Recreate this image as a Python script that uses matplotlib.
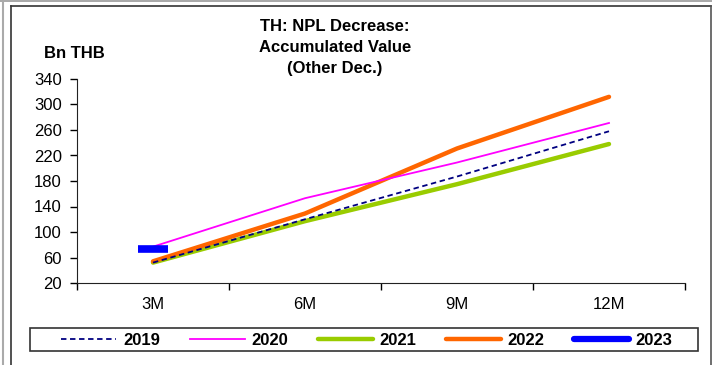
import numpy as np
import matplotlib
matplotlib.use("Agg")
import matplotlib.pyplot as plt
from matplotlib.lines import Line2D
from matplotlib.patches import Rectangle

plt.rcParams['font.family'] = ['Liberation Sans', 'DejaVu Sans']

categories = ['3M', '6M', '9M', '12M']
y2019 = [52, 120, 187, 258]
y2020 = [77, 153, 209, 271]
y2021 = [52, 117, 175, 238]
y2022 = [54, 129, 231, 312]
y2023 = [73]

fig = plt.figure(figsize=(7.12, 3.65), dpi=100)
ax = fig.add_axes([77/712, 1-283/365, (685-77)/712, (283-79)/365])

x = np.arange(len(categories)) + 0.5

ax.plot(x, y2019, color='#000080', lw=1.3, ls=(0, (3, 2)), zorder=3)
ax.plot(x, y2020, color='#FF00FF', lw=1.3, zorder=3)
ax.plot(x, y2021, color='#99CC00', lw=3.2, solid_capstyle='round', zorder=2)
ax.plot(x, y2022, color='#FF6600', lw=3.2, solid_capstyle='round', zorder=2)
ax.plot(x[:1], y2023, color='#0000FF', marker='_', ms=22, mew=5.5, ls='none', zorder=4)

ax.set_xlim(0, 4)
ax.set_ylim(20, 340)
ax.set_yticks(np.arange(20, 341, 40))
ax.set_xticks(np.arange(0, 5))
ax.set_xticklabels([])
ax.set_xticks(x, minor=True)
ax.set_xticklabels(categories, minor=True)
ax.tick_params(axis='x', which='minor', length=0, pad=10, labelsize=12)
ax.tick_params(axis='x', which='major', length=5, direction='out', width=1)
ax.tick_params(axis='y', length=5, direction='out', width=1, labelsize=12, pad=6)
for s in ['top', 'right']:
    ax.spines[s].set_visible(False)
for s in ['left', 'bottom']:
    ax.spines[s].set_color('#222222')

fig.text(335/712, 1-19/365, 'TH: NPL Decrease:\nAccumulated Value\n(Other Dec.)',
         ha='center', va='top', fontsize=12, fontweight='bold', linespacing=1.5)
fig.text(74/712, 1-54/365, 'Bn THB', ha='center', va='center',
         fontsize=12, fontweight='bold')

handles = [
    Line2D([], [], color='#000080', lw=1.3, ls=(0, (3, 2))),
    Line2D([], [], color='#FF00FF', lw=1.3),
    Line2D([], [], color='#99CC00', lw=3.2, solid_capstyle='round'),
    Line2D([], [], color='#FF6600', lw=3.2, solid_capstyle='round'),
    Line2D([], [], color='#0000FF', lw=4.5, solid_capstyle='round'),
]
labels = ['2019', '2020', '2021', '2022', '2023']
leg = fig.legend(handles, labels, loc='lower left', ncol=5, mode='expand',
                 bbox_to_anchor=(58/712, 1-351/365, 618/712, 23/365),
                 frameon=False, handlelength=3.3,
                 prop={'weight': 'bold', 'size': 12}, borderpad=0.2,
                 handletextpad=0.4, borderaxespad=0)
fig.add_artist(Rectangle((30/712, 1-351/365), (698-30)/712, 23/365,
                         transform=fig.transFigure, fill=False,
                         edgecolor='#333333', lw=1.2))

# outer frame lines
fig.add_artist(Line2D([11/712, 11/712], [0, 1-6/365], color='#333333', lw=1.2))
fig.add_artist(Line2D([11/712, 711/712], [1-6/365, 1-6/365], color='#333333', lw=1.2))
fig.add_artist(Line2D([710.5/712, 710.5/712], [0, 1-6/365], color='#555555', lw=1.2))
fig.add_artist(Line2D([0, 1], [1-1/365, 1-1/365], color='#999999', lw=1.2))
fig.add_artist(Line2D([3/712, 3/712], [0, 1], color='#aaaaaa', lw=1.5))

fig.savefig('out.png', dpi=100)
